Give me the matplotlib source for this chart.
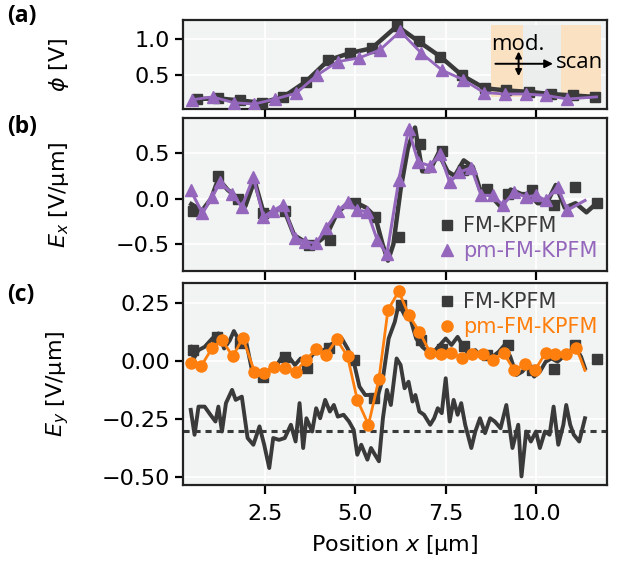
import matplotlib
matplotlib.use("Agg")
import matplotlib.pyplot as plt
from matplotlib.patches import Rectangle

# ---------------- data ----------------
# (a) potential
a_fm_x = [0.60, 1.20, 1.80, 2.40, 3.00, 3.62, 4.25, 4.85, 5.45, 6.15, 6.75, 7.35, 7.95, 8.58, 9.18, 9.80, 10.43, 11.03, 11.65]
a_fm_y = [0.17, 0.18, 0.15, 0.12, 0.20, 0.41, 0.71, 0.81, 0.875, 1.185, 0.97, 0.76, 0.50, 0.32, 0.29, 0.27, 0.24, 0.22, 0.20]
a_pm_x = [0.47, 1.04, 1.62, 2.19, 2.77, 3.35, 3.93, 4.51, 5.09, 5.67, 6.24, 6.82, 7.40, 7.98, 8.56, 9.14, 9.72, 10.29, 10.87]
a_pm_y = [0.16, 0.20, 0.12, 0.10, 0.17, 0.25, 0.50, 0.69, 0.74, 0.85, 1.11, 0.81, 0.57, 0.44, 0.26, 0.24, 0.24, 0.22, 0.17]
a_pm_end = (11.68, 0.20)

# (b) Ex
b_fm_x = [0.49, 1.20, 1.74, 2.45, 3.04, 3.70, 4.29, 5.00, 5.54, 6.20, 6.79, 7.39, 7.99, 8.64, 9.24, 9.89, 10.49, 11.09, 11.68]
b_fm_y = [-0.13, 0.25, 0.0, -0.16, -0.13, -0.505, -0.45, -0.05, -0.20, -0.415, 0.60, 0.52, 0.31, 0.11, 0.05, 0.09, -0.07, 0.13, -0.05]
b_fm_line_x = [0.45, 0.75, 1.0, 1.2, 1.45, 1.75, 1.95, 2.2, 2.45, 2.7, 3.0, 3.3, 3.7, 3.95, 4.2, 4.5, 4.8, 5.05, 5.3, 5.55,
               5.75, 5.9, 6.05, 6.25, 6.45, 6.65, 6.85, 7.05, 7.3, 7.55, 7.75, 8.0, 8.25, 8.45, 8.75, 9.05, 9.3, 9.6,
               9.8, 10.05, 10.3, 10.55, 10.8, 11.1, 11.4, 11.68]
b_fm_line_y = [-0.06, -0.13, 0.0, 0.22, 0.1, 0.0, -0.08, 0.2, -0.15, -0.15, -0.1, -0.4, -0.5, -0.48, -0.4, -0.15, -0.05,
               -0.05, -0.1, -0.2, -0.5, -0.68, -0.5, 0.1, 0.55, 0.78, 0.3, 0.3, 0.5, 0.3, 0.25, 0.42, 0.35, 0.1, 0.03,
               -0.1, 0.1, 0.05, 0.05, -0.05, -0.05, 0.15, -0.1, -0.05, -0.15, -0.05]
b_pm_x = [0.435, 0.76, 1.03, 1.25, 1.58, 1.85, 2.17, 2.45, 2.72, 2.99, 3.32, 3.59, 3.91, 4.18, 4.51, 4.78, 5.05, 5.33,
          5.60, 5.87, 6.20, 6.47, 6.74, 7.07, 7.34, 7.61, 7.88, 8.21, 8.48, 8.80, 9.08, 9.40, 9.73, 10.0, 10.27,
          10.60, 10.87]
b_pm_y = [0.09, -0.16, 0.02, 0.18, 0.055, -0.09, 0.235, -0.2, -0.13, -0.07, -0.43, -0.47, -0.49, -0.325, -0.14, -0.036,
          -0.126, -0.144, -0.45, -0.61, 0.20, 0.76, 0.40, 0.36, 0.49, 0.18, 0.29, 0.34, 0.036, 0.036, -0.07, 0.07,
          0.018, 0.036, -0.018, 0.126, -0.126]
b_pm_end = (11.36, -0.02)

# (c) Ey
c_fm_x = [0.51, 1.16, 1.81, 2.45, 3.06, 3.66, 4.26, 4.95, 5.51, 6.25, 6.81, 7.39, 8.00, 8.64, 9.24, 9.89, 10.49, 11.09, 11.68]
c_fm_y = [0.047, 0.104, 0.076, -0.067, 0.016, -0.03, 0.054, 0.004, -0.16, 0.24, 0.09, 0.05, 0.064, 0.026, 0.07, -0.04, -0.036, 0.07, 0.01]
c_fm_line_x = [0.435, 0.52, 0.65, 0.82, 1.03, 1.20, 1.36, 1.52, 1.63, 1.79, 1.96, 2.12, 2.28, 2.45, 2.61, 2.77, 2.99,
               3.15, 3.32, 3.48, 3.64, 3.80, 3.97, 4.13, 4.29, 4.46, 4.62, 4.78, 4.95, 5.11, 5.27, 5.43, 5.60, 5.76,
               5.92, 6.09, 6.20, 6.36, 6.52, 6.68, 6.85, 7.01, 7.17, 7.34, 7.50, 7.66, 7.83, 7.99, 8.15, 8.32, 8.48,
               8.64, 8.80, 8.97, 9.13, 9.29, 9.46, 9.62, 9.78, 9.95, 10.11, 10.27, 10.43, 10.60, 10.76, 10.92, 11.09,
               11.25, 11.36]
c_fm_line_y = [0.061, 0.011, 0.047, 0.061, 0.097, 0.119, 0.054, 0.090, 0.129, 0.083, 0.090, -0.031, -0.060, -0.067,
               -0.039, -0.031, 0.026, 0.019, -0.017, 0.011, -0.017, 0.026, 0.047, 0.047, 0.069, 0.083, 0.097, 0.054,
               -0.003, -0.110, -0.146, -0.146, -0.160, -0.074, 0.097, 0.169, 0.247, 0.197, 0.183, 0.097, 0.061, 0.040,
               0.040, 0.069, 0.097, 0.069, 0.104, 0.061, 0.026, 0.047, 0.019, 0.026, 0.019, 0.040, 0.069, 0.019,
               -0.060, -0.046, -0.017, -0.067, -0.046, -0.003, 0.011, -0.003, 0.019, 0.040, 0.061, 0.019, -0.031]
c_pm_x = [0.435, 0.73, 1.03, 1.30, 1.60, 1.88, 2.20, 2.47, 2.75, 3.04, 3.34, 3.62, 3.91, 4.18, 4.48, 4.78, 5.05, 5.36,
          5.65, 5.90, 6.20, 6.47, 6.77, 7.07, 7.36, 7.66, 7.96, 8.24, 8.53, 8.80, 9.11, 9.40, 9.70, 9.97, 10.27,
          10.54, 10.84, 11.12]
c_pm_y = [-0.01, -0.02, 0.057, 0.09, 0.02, 0.10, -0.046, -0.05, -0.024, -0.031, -0.046, 0.004, 0.05, 0.026, 0.093,
          0.02, -0.167, -0.274, -0.077, 0.22, 0.30, 0.20, 0.126, 0.036, 0.03, 0.033, 0.014, 0.03, 0.03, 0.004, 0.033,
          -0.04, -0.014, -0.04, 0.036, 0.03, 0.03, 0.057]
c_pm_end = (11.36, -0.04)
c_diff_x = [0.435, 0.54, 0.65, 0.82, 0.98, 1.12, 1.20, 1.30, 1.41, 1.58, 1.68, 1.85, 2.01, 2.17, 2.34, 2.47, 2.61,
            2.72, 2.88, 3.04, 3.21, 3.34, 3.45, 3.55, 3.64, 3.80, 3.91, 4.02, 4.16, 4.29, 4.40, 4.51, 4.67, 4.82,
            4.95, 5.05, 5.16, 5.33, 5.43, 5.54, 5.65, 5.76, 5.87, 5.98, 6.14, 6.25, 6.36, 6.47, 6.58, 6.66, 6.77,
            6.90, 7.07, 7.18, 7.28, 7.39, 7.50, 7.61, 7.72, 7.83, 7.93, 8.04, 8.21, 8.32, 8.45, 8.59, 8.73, 8.86,
            9.02, 9.18, 9.35, 9.51, 9.60, 9.73, 9.86, 10.0, 10.11, 10.25, 10.38, 10.49, 10.62, 10.76, 10.84, 10.95,
            11.05, 11.20, 11.36]
c_diff_y = [-0.21, -0.317, -0.196, -0.196, -0.231, -0.260, -0.196, -0.303, -0.181, -0.124, -0.167, -0.153, -0.331,
            -0.360, -0.281, -0.360, -0.460, -0.331, -0.339, -0.331, -0.274, -0.346, -0.181, -0.374, -0.246, -0.303,
            -0.203, -0.246, -0.167, -0.217, -0.189, -0.239, -0.231, -0.260, -0.296, -0.403, -0.360, -0.424, -0.374,
            -0.403, -0.431, -0.246, -0.124, -0.189, 0.011, -0.017, -0.117, -0.089, -0.174, -0.146, -0.217, -0.231,
            -0.274, -0.246, -0.203, -0.224, -0.074, -0.260, -0.167, -0.231, -0.181, -0.274, -0.374, -0.303, -0.246,
            -0.310, -0.246, -0.260, -0.289, -0.189, -0.374, -0.274, -0.496, -0.303, -0.346, -0.303, -0.374, -0.303,
            -0.317, -0.196, -0.360, -0.274, -0.189, -0.274, -0.317, -0.346, -0.246]
c_offset = -0.3

xticks = [2.5, 5.0, 7.5, 10.0]

# ---------------- style ----------------
DARK = "#3a3a3a"
PURPLE = "#9467bd"
ORANGE = "#ff7f0e"
BG = "#f2f4f3"

plt.rcParams.update({
    "font.family": "DejaVu Sans",
    "font.size": 16,
    "axes.linewidth": 1.6,
    "xtick.major.width": 1.6,
    "ytick.major.width": 1.6,
    "xtick.major.size": 6.5,
    "ytick.major.size": 6,
    "xtick.major.pad": 7,
    "xtick.labelsize": 16,
    "ytick.labelsize": 16,
})

fig = plt.figure(figsize=(6.17, 5.65), dpi=100)
left, width = 0.2966, 0.6872
ax_a = fig.add_axes([left, 0.8071, width, 0.1575])
ax_b = fig.add_axes([left, 0.5209, width, 0.2703])
ax_c = fig.add_axes([left, 0.1416, width, 0.3581])

for ax in (ax_a, ax_b, ax_c):
    ax.set_facecolor(BG)
    ax.grid(True, color="white", lw=1.3)
    ax.set_axisbelow(True)
    ax.set_xlim(0.22, 11.97)
    ax.set_xticks(xticks)
    for s in ax.spines.values():
        s.set_color("#222222")

# (a)
ax_a.add_patch(Rectangle((8.75, 0.20), 0.89, 1.0, color="#f9e1c2", lw=0, zorder=1))
ax_a.add_patch(Rectangle((9.64, 0.20), 1.05, 1.0, color="#eceeee", lw=0, zorder=1))
ax_a.add_patch(Rectangle((10.69, 0.20), 1.11, 1.0, color="#f9e1c2", lw=0, zorder=1))
ax_a.plot(a_fm_x, a_fm_y, color=DARK, lw=3.2, marker="s", ms=7.5, zorder=3)
ax_a.plot(a_pm_x + [a_pm_end[0]], a_pm_y + [a_pm_end[1]], color=PURPLE, lw=2, zorder=4)
ax_a.plot(a_pm_x, a_pm_y, ls="none", color=PURPLE, marker="^", ms=8.5, zorder=4)
ax_a.annotate("", xy=(10.55, 0.66), xytext=(8.8, 0.66),
              arrowprops=dict(arrowstyle="-|>", color="black", lw=1.4, mutation_scale=12), zorder=5)
ax_a.annotate("", xy=(9.52, 0.45), xytext=(9.52, 0.87),
              arrowprops=dict(arrowstyle="<|-|>", color="black", lw=1.4, mutation_scale=9), zorder=5)
ax_a.text(8.75, 0.93, "mod.", fontsize=16, family="Open Sans", va="center", ha="left", zorder=5)
ax_a.text(10.55, 0.68, "scan", fontsize=16, family="Open Sans", va="center", ha="left", zorder=5)
ax_a.set_ylim(0.032, 1.268)
ax_a.set_yticks([0.5, 1.0])
ax_a.tick_params(labelbottom=False)
ax_a.set_ylabel(r"$\phi$ [V]", fontsize=16)

# (b)
ax_b.plot(b_fm_line_x, b_fm_line_y, color=DARK, lw=3.2, zorder=3)
ax_b.plot(b_fm_x, b_fm_y, ls="none", color=DARK, marker="s", ms=7.5, zorder=3, label="FM-KPFM")
ax_b.plot(b_pm_x + [b_pm_end[0]], b_pm_y + [b_pm_end[1]], color=PURPLE, lw=2.2, zorder=4)
ax_b.plot(b_pm_x, b_pm_y, ls="none", color=PURPLE, marker="^", ms=8.5, zorder=4, label="pm-FM-KPFM")
ax_b.set_ylim(-0.79, 0.885)
ax_b.set_yticks([-0.5, 0.0, 0.5])
ax_b.tick_params(labelbottom=False)
ax_b.set_ylabel(r"$E_x$ [V/µm]", fontsize=16)
ax_b.legend(loc="lower right", frameon=False, handlelength=0.6, handletextpad=0.5,
            borderaxespad=0.05, labelspacing=0.25, fontsize=15, labelcolor="linecolor")

# (c)
ax_c.axhline(c_offset, color=DARK, lw=2.2, ls=(0, (2, 1.6)), zorder=2)
ax_c.plot(c_diff_x, c_diff_y, color=DARK, lw=2.8, zorder=3)
ax_c.plot(c_fm_line_x, c_fm_line_y, color=DARK, lw=2.8, zorder=3)
ax_c.plot(c_fm_x, c_fm_y, ls="none", color=DARK, marker="s", ms=7.5, zorder=3, label="FM-KPFM")
ax_c.plot(c_pm_x + [c_pm_end[0]], c_pm_y + [c_pm_end[1]], color=ORANGE, lw=2, zorder=4)
ax_c.plot(c_pm_x, c_pm_y, ls="none", color=ORANGE, marker="o", ms=8, zorder=4, label="pm-FM-KPFM")
ax_c.set_ylim(-0.533, 0.337)
ax_c.set_yticks([-0.5, -0.25, 0.0, 0.25])
ax_c.set_ylabel(r"$E_y$ [V/µm]", fontsize=16)
ax_c.set_xlabel(r"Position $x$ [µm]", fontsize=16, labelpad=7)
ax_c.legend(loc="upper right", frameon=False, handlelength=0.6, handletextpad=0.5,
            borderaxespad=0.05, labelspacing=0.25, fontsize=15, labelcolor="linecolor")

for ax in (ax_a, ax_b, ax_c):
    ax.yaxis.set_label_coords(-0.265, 0.5)

for lbl, y in (("(a)", 0.972), ("(b)", 0.775), ("(c)", 0.478)):
    fig.text(0.012, y, lbl, fontsize=16.5, fontweight="bold", family="Open Sans", va="center", ha="left")

fig.savefig("out.png", dpi=100)
